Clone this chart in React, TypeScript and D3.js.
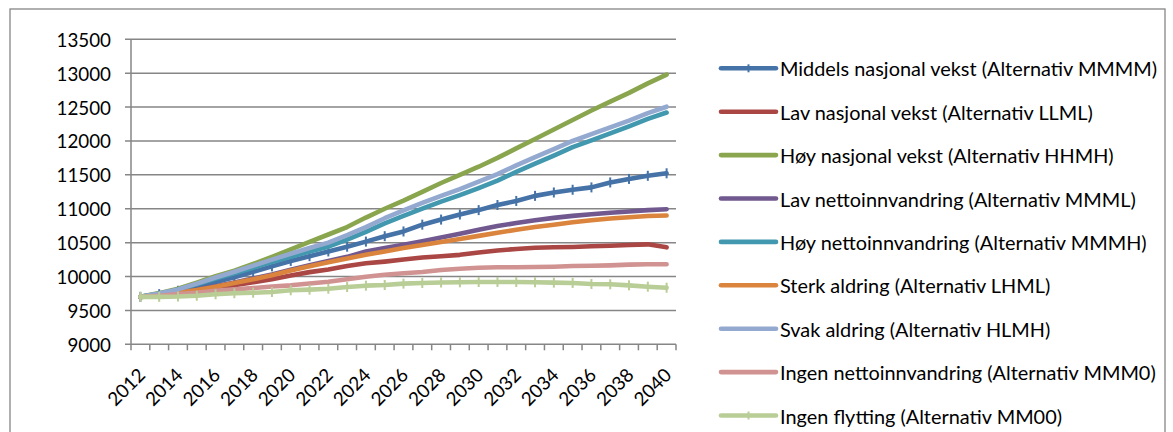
import React from "react";
import * as d3 from "d3";

const years: number[] = d3.range(2012, 2041);
const yTicks: number[] = [9000, 9500, 10000, 10500, 11000, 11500, 12000, 12500, 13000, 13500];
const xLabelYears: number[] = years.filter((y) => (y - 2012) % 2 === 0);

const seriesNames: string[] = [
  "Middels nasjonal vekst (Alternativ MMMM)",
  "Lav nasjonal vekst (Alternativ LLML)",
  "Høy nasjonal vekst (Alternativ HHMH)",
  "Lav nettoinnvandring (Alternativ MMML)",
  "Høy nettoinnvandring (Alternativ MMMH)",
  "Sterk aldring (Alternativ LHML)",
  "Svak aldring (Alternativ HLMH)",
  "Ingen nettoinnvandring (Alternativ MMM0)",
  "Ingen flytting (Alternativ MM00)",
];

const seriesColors: string[] = [
  "#4572A7", "#AA4643", "#89A54E", "#71588F", "#4198AF",
  "#DB843D", "#93A9CF", "#D19392", "#B9CD96",
];

const seriesMarkers: boolean[] = [true, false, false, false, false, false, false, false, true];

const middels: number[] = [9700, 9740, 9790, 9850, 9920, 9990, 10070, 10150, 10230, 10300, 10370, 10440, 10515, 10595, 10665, 10765, 10840, 10915, 10980, 11055, 11115, 11190, 11240, 11280, 11315, 11388, 11440, 11486, 11523];
const lavNasjonal: number[] = [9700, 9720, 9760, 9795, 9830, 9870, 9915, 9960, 10015, 10065, 10105, 10155, 10195, 10220, 10250, 10280, 10300, 10320, 10355, 10385, 10406, 10425, 10431, 10436, 10446, 10455, 10465, 10475, 10431];
const hoyNasjonal: number[] = [9700, 9755, 9820, 9910, 10005, 10085, 10185, 10290, 10400, 10510, 10620, 10730, 10870, 11000, 11120, 11250, 11380, 11500, 11620, 11750, 11890, 12030, 12170, 12310, 12450, 12580, 12710, 12850, 12980];
const lavNetto: number[] = [9700, 9728, 9765, 9810, 9855, 9910, 9970, 10030, 10100, 10165, 10230, 10290, 10370, 10420, 10470, 10520, 10575, 10630, 10690, 10745, 10790, 10830, 10865, 10895, 10920, 10940, 10960, 10980, 10992];
const hoyNetto: number[] = [9700, 9747, 9804, 9885, 9970, 10048, 10130, 10212, 10290, 10368, 10440, 10545, 10660, 10785, 10895, 11003, 11105, 11200, 11305, 11415, 11545, 11665, 11785, 11908, 12010, 12112, 12215, 12325, 12420];
const sterkAldring: number[] = [9700, 9725, 9760, 9800, 9850, 9905, 9960, 10020, 10090, 10150, 10210, 10265, 10320, 10370, 10420, 10465, 10510, 10555, 10600, 10645, 10690, 10730, 10765, 10800, 10830, 10855, 10875, 10893, 10900];
const svakAldring: number[] = [9700, 9750, 9810, 9895, 9985, 10070, 10160, 10250, 10335, 10420, 10500, 10610, 10730, 10860, 10975, 11085, 11190, 11290, 11400, 11510, 11640, 11760, 11880, 12000, 12100, 12200, 12300, 12410, 12505];
const ingenNetto: number[] = [9700, 9715, 9740, 9760, 9790, 9810, 9830, 9853, 9870, 9897, 9924, 9959, 9997, 10027, 10048, 10067, 10096, 10115, 10130, 10136, 10136, 10140, 10145, 10155, 10160, 10165, 10175, 10180, 10180];
const ingenFlytting: number[] = [9700, 9700, 9705, 9717, 9738, 9753, 9761, 9772, 9797, 9806, 9820, 9845, 9865, 9875, 9895, 9905, 9912, 9915, 9919, 9920, 9920, 9915, 9910, 9905, 9890, 9885, 9870, 9850, 9835];

const seriesValues: number[][] = [middels, lavNasjonal, hoyNasjonal, lavNetto, hoyNetto, sterkAldring, svakAldring, ingenNetto, ingenFlytting];

const W = 1173;
const H = 432;
const plot = { left: 131, right: 676, top: 39.3, bottom: 344.3 };
const FONT = "Lato, 'Open Sans', sans-serif";
const AXIS = "#868686";

export default function App() {
  const x = d3.scaleBand<number>().domain(years).range([plot.left, plot.right]).padding(0);
  const cx = (yr: number) => (x(yr) as number) + x.bandwidth() / 2;
  const y = d3.scaleLinear().domain([9000, 13500]).range([plot.bottom, plot.top]);
  const line = d3.line<number>().x((_, i) => cx(years[i])).y((v) => y(v));
  const boundaries = years.map((yr) => x(yr) as number).concat([plot.right]);

  const legendX0 = 721;
  const legendX1 = 776;
  const legendY0 = 68.3;
  const legendStep = 43.4;

  return (
    <svg width={W} height={H} style={{ position: "absolute", left: 0, top: 0, background: "#fff" }} fontFamily={FONT}>
      <rect x={10} y={9} width={1155} height={H} fill="#fff" stroke={AXIS} strokeWidth={1.3} />
      {yTicks.map((t) => (
        <g key={t}>
          <line x1={plot.left - 6} x2={plot.right} y1={y(t)} y2={y(t)} stroke={AXIS} strokeWidth={1.5} />
          <text x={111} y={y(t)} textAnchor="end" dominantBaseline="central" fontSize={18.8} fill="#000">
            {t}
          </text>
        </g>
      ))}
      <line x1={plot.left} x2={plot.left} y1={plot.top} y2={plot.bottom} stroke={AXIS} strokeWidth={1.5} />
      {boundaries.map((bx, i) => (
        <line key={i} x1={bx} x2={bx} y1={plot.bottom} y2={plot.bottom + 6} stroke={AXIS} strokeWidth={1.5} />
      ))}
      {xLabelYears.map((yr) => {
        const ax = cx(yr) + 6;
        const ay = plot.bottom + 32;
        return (
          <text key={yr} x={ax} y={ay} textAnchor="end" fontSize={18.8} fill="#000" transform={`rotate(-45 ${ax} ${ay})`}>
            {yr}
          </text>
        );
      })}
      {seriesValues.map((vals, si) => (
        <g key={si}>
          <path d={line(vals) || ""} fill="none" stroke={seriesColors[si]} strokeWidth={4.6} strokeLinejoin="round" strokeLinecap="round" />
          {seriesMarkers[si] &&
            vals.map((v, i) => (
              <line key={i} x1={cx(years[i])} x2={cx(years[i])} y1={y(v) - 5} y2={y(v) + 5} stroke={seriesColors[si]} strokeWidth={2} />
            ))}
        </g>
      ))}
      {seriesNames.map((name, si) => {
        const ly = legendY0 + si * legendStep;
        return (
          <g key={name}>
            <line x1={legendX0} x2={legendX1} y1={ly} y2={ly} stroke={seriesColors[si]} strokeWidth={4.6} strokeLinecap="round" />
            {seriesMarkers[si] && (
              <line x1={(legendX0 + legendX1) / 2} x2={(legendX0 + legendX1) / 2} y1={ly - 4} y2={ly + 4} stroke={seriesColors[si]} strokeWidth={2} />
            )}
            <text x={780} y={ly} dominantBaseline="central" fontSize={19.9} fill="#000">
              {name}
            </text>
          </g>
        );
      })}
    </svg>
  );
}
